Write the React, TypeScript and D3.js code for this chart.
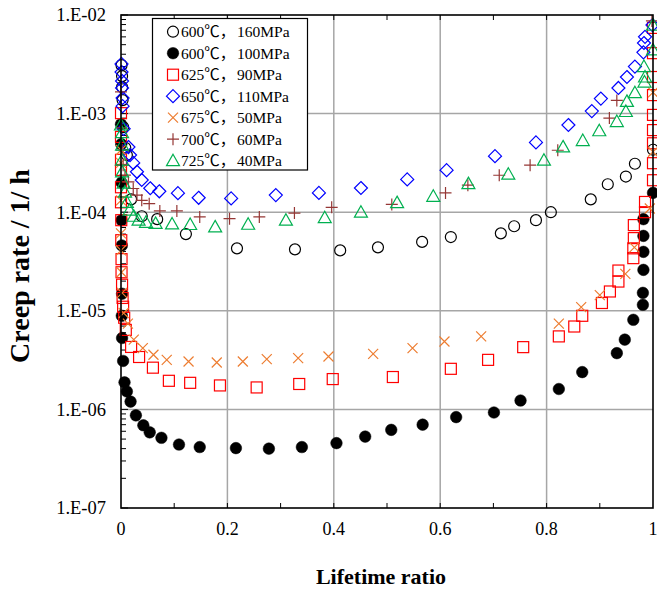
import React from "react";
import * as d3 from "d3";

type P = [number, number];

const xTicks = [0, 0.2, 0.4, 0.6, 0.8, 1];
const xTickLabels = ["0", "0.2", "0.4", "0.6", "0.8", "1"];
const yTicks = [1e-2, 1e-3, 1e-4, 1e-5, 1e-6, 1e-7];
const yTickLabels = ["1.E-02", "1.E-03", "1.E-04", "1.E-05", "1.E-06", "1.E-07"];

const temps = ["600℃，", "600℃，", "625℃，", "650℃，", "675℃，", "700℃，", "725℃，"];
const stresses = ["160MPa", "100MPa", "90MPa", "110MPa", "50MPa", "60MPa", "40MPa"];

const s600_160: P[] = [[0.001,3.1e-3],[0.002,2.4e-3],[0.002,1.86e-3],[0.003,1.37e-3],[0.004,7.3e-4],[0.008,4.5e-4],[0.011,3.8e-4],[0.019,1.35e-4],[0.039,9.1e-5],[0.068,8.5e-5],[0.122,6.0e-5],[0.218,4.3e-5],[0.327,4.2e-5],[0.412,4.1e-5],[0.483,4.4e-5],[0.566,5.0e-5],[0.62,5.6e-5],[0.714,6.1e-5],[0.739,7.2e-5],[0.78,8.3e-5],[0.808,1.0e-4],[0.883,1.35e-4],[0.915,1.92e-4],[0.949,2.3e-4],[0.966,3.1e-4],[1.0,4.3e-4]];

const s600_100: P[] = [[0.0,7.8e-4],[0.0005,4.9e-4],[0.001,2.0e-4],[0.001,8.3e-5],[0.0015,4.6e-5],[0.002,1.49e-5],[0.0015,8.9e-6],[0.002,5.3e-6],[0.004,3.1e-6],[0.0066,1.88e-6],[0.011,1.52e-6],[0.018,1.2e-6],[0.028,8.7e-7],[0.042,6.9e-7],[0.054,5.85e-7],[0.076,5.15e-7],[0.109,4.4e-7],[0.148,4.15e-7],[0.216,4.05e-7],[0.278,4.0e-7],[0.34,4.15e-7],[0.405,4.55e-7],[0.459,5.3e-7],[0.508,6.2e-7],[0.567,7.0e-7],[0.63,8.35e-7],[0.701,9.3e-7],[0.751,1.23e-6],[0.823,1.61e-6],[0.867,2.39e-6],[0.932,3.72e-6],[0.947,5.1e-6],[0.963,8.1e-6],[0.981,1.15e-5],[0.981,1.52e-5],[0.982,2.6e-5],[0.982,3.96e-5],[0.982,5.75e-5],[0.982,8.5e-5],[1.0,1.57e-4]];

const s625_90: P[] = [[0.0,1.01e-3],[0.0,5.8e-4],[0.0,3.4e-4],[0.0,2.68e-4],[0.0,1.79e-4],[0.0,1.26e-4],[0.0005,8.3e-5],[0.0005,5.2e-5],[0.001,3.34e-5],[0.001,2.46e-5],[0.002,1.84e-5],[0.003,1.35e-5],[0.004,1.1e-5],[0.006,8.5e-6],[0.009,6.4e-6],[0.019,4.3e-6],[0.034,3.4e-6],[0.06,2.65e-6],[0.09,1.95e-6],[0.13,1.86e-6],[0.186,1.75e-6],[0.255,1.67e-6],[0.335,1.81e-6],[0.398,2.03e-6],[0.511,2.13e-6],[0.62,2.58e-6],[0.69,3.18e-6],[0.756,4.28e-6],[0.823,5.5e-6],[0.852,6.93e-6],[0.867,8.9e-6],[0.904,1.2e-5],[0.919,1.57e-5],[0.935,1.98e-5],[0.935,2.56e-5],[0.963,3.42e-5],[0.963,4.3e-5],[0.964,5.46e-5],[0.964,7.4e-5],[0.985,1.0e-4],[0.985,1.27e-4],[1.0,2.11e-4],[1.0,3.14e-4],[1.0,5.0e-4],[1.0,6.8e-4],[1.0,9.7e-4],[1.0,1.54e-3],[1.0,2.35e-3],[1.0,4.1e-3],[1.0,7.4e-3]];

const s650_110: P[] = [[0.001,3.19e-3],[0.001,2.64e-3],[0.002,2.14e-3],[0.002,1.82e-3],[0.003,1.44e-3],[0.003,1.19e-3],[0.005,7.0e-4],[0.014,4.58e-4],[0.017,3.8e-4],[0.023,3.16e-4],[0.03,2.57e-4],[0.039,2.12e-4],[0.055,1.75e-4],[0.072,1.63e-4],[0.107,1.56e-4],[0.146,1.4e-4],[0.207,1.38e-4],[0.291,1.49e-4],[0.372,1.57e-4],[0.451,1.76e-4],[0.538,2.15e-4],[0.612,2.67e-4],[0.703,3.7e-4],[0.78,5.1e-4],[0.841,7.66e-4],[0.885,1.06e-3],[0.902,1.42e-3],[0.935,1.82e-3],[0.951,2.35e-3],[0.966,3.0e-3],[0.982,4.18e-3],[0.983,5.2e-3],[0.985,6.0e-3],[0.999,7.9e-3]];

const s675_50: P[] = [[0.0,4.27e-4],[0.0,3.16e-4],[0.0,1.32e-4],[0.0,6.1e-5],[0.0,4.1e-5],[0.001,2.46e-5],[0.002,1.52e-5],[0.005,9.5e-6],[0.013,7.4e-6],[0.024,5.1e-6],[0.041,4.19e-6],[0.061,3.58e-6],[0.086,3.18e-6],[0.127,3.06e-6],[0.18,2.99e-6],[0.229,3.06e-6],[0.274,3.24e-6],[0.333,3.31e-6],[0.39,3.44e-6],[0.474,3.66e-6],[0.548,4.19e-6],[0.608,4.88e-6],[0.677,5.5e-6],[0.823,7.4e-6],[0.865,1.09e-5],[0.9,1.44e-5],[0.948,2.37e-5],[0.965,4.4e-5],[0.994,1.09e-4],[1.0,4.1e-4],[1.0,1.64e-3]];

const s700_60: P[] = [[0.0,1.66e-3],[0.001,7.15e-4],[0.002,4.27e-4],[0.004,3.0e-4],[0.0075,2.38e-4],[0.014,2.03e-4],[0.023,1.74e-4],[0.03,1.49e-4],[0.039,1.32e-4],[0.053,1.22e-4],[0.073,1.03e-4],[0.105,1.03e-4],[0.148,8.96e-5],[0.204,8.6e-5],[0.26,8.96e-5],[0.326,9.8e-5],[0.396,1.12e-4],[0.509,1.2e-4],[0.61,1.57e-4],[0.652,1.88e-4],[0.711,2.37e-4],[0.769,3.0e-4],[0.821,4.25e-4],[0.918,9.0e-4],[0.932,1.36e-3],[0.998,8.7e-3]];

const s725_40: P[] = [[0.0,7.66e-4],[0.002,6.4e-4],[0.002,4.8e-4],[0.002,3.38e-4],[0.002,2.56e-4],[0.005,1.97e-4],[0.0075,1.6e-4],[0.011,1.26e-4],[0.016,1.05e-4],[0.024,9.1e-5],[0.033,8.3e-5],[0.047,7.9e-5],[0.065,7.7e-5],[0.096,7.6e-5],[0.13,7.5e-5],[0.177,7.1e-5],[0.239,7.55e-5],[0.31,8.3e-5],[0.383,8.8e-5],[0.451,1.0e-4],[0.519,1.25e-4],[0.587,1.45e-4],[0.653,1.95e-4],[0.728,2.43e-4],[0.795,3.37e-4],[0.831,4.6e-4],[0.868,5.33e-4],[0.899,6.7e-4],[0.932,8.3e-4],[0.949,1.05e-3],[0.951,1.33e-3],[0.966,1.63e-3],[0.984,2.09e-3],[0.985,2.35e-3],[0.983,3.0e-3],[1.0,4.42e-3],[1.0,7.9e-3]];

const seriesData = [s600_160, s600_100, s625_90, s650_110, s675_50, s700_60, s725_40];
const markers = ["circleOpen", "circleFilled", "square", "diamond", "cross", "plus", "triangle"];
const colors = ["#000000", "#000000", "#FF0000", "#0000FF", "#ED7D31", "#953735", "#00B050"];

const W = 657, H = 589;
const L = 121, R = 653, T = 15, B = 508;
const serif = "'Liberation Serif', 'Times New Roman', 'Noto Sans CJK JP', serif";

function Marker({ kind, x, y, color }: { kind: string; x: number; y: number; color: string }) {
  const sw = 1.2;
  switch (kind) {
    case "circleOpen":
      return <circle cx={x} cy={y} r={5.5} fill="none" stroke={color} strokeWidth={sw} />;
    case "circleFilled":
      return <circle cx={x} cy={y} r={5.8} fill={color} stroke={color} strokeWidth={0.5} />;
    case "square":
      return <rect x={x - 5.5} y={y - 5.5} width={11} height={11} fill="none" stroke={color} strokeWidth={sw} />;
    case "diamond":
      return <path d={`M${x},${y - 6.5}L${x + 6.5},${y}L${x},${y + 6.5}L${x - 6.5},${y}Z`} fill="none" stroke={color} strokeWidth={sw} />;
    case "cross":
      return <path d={`M${x - 5},${y - 5}L${x + 5},${y + 5}M${x - 5},${y + 5}L${x + 5},${y - 5}`} fill="none" stroke={color} strokeWidth={sw} />;
    case "plus":
      return <path d={`M${x - 6},${y}L${x + 6},${y}M${x},${y - 6}L${x},${y + 6}`} fill="none" stroke={color} strokeWidth={sw} />;
    case "triangle":
      return <path d={`M${x},${y - 6.5}L${x + 6.5},${y + 5}L${x - 6.5},${y + 5}Z`} fill="none" stroke={color} strokeWidth={sw} />;
  }
  return null;
}

export default function App() {
  const xs = d3.scaleLinear().domain([0, 1]).range([L, R]);
  const ys = d3.scaleLog().domain([1e-7, 1e-2]).range([B, T]);

  const minorY: number[] = [];
  for (let e = -7; e < -2; e++) {
    for (let m = 2; m <= 9; m++) minorY.push(m * Math.pow(10, e));
  }
  const tenthX = d3.range(1, 10).map((i) => i / 10);

  const legX = 152.5, legY = 18.5, legW = 155, legH = 151.5;

  return (
    <svg width={W} height={H} style={{ position: "absolute", left: 0, top: 0, background: "#fff" }} fontFamily={serif}>
      <rect x={0} y={0} width={W} height={H} fill="#fff" />
      {yTicks.slice(1, -1).map((v, i) => (
        <line key={"gy" + i} x1={L} x2={R} y1={ys(v)} y2={ys(v)} stroke="#a6a6a6" strokeWidth={1.5} />
      ))}
      {xTicks.slice(1, -1).map((v, i) => (
        <line key={"gx" + i} x1={xs(v)} x2={xs(v)} y1={T} y2={B} stroke="#a6a6a6" strokeWidth={1.5} />
      ))}
      {minorY.map((v, i) => (
        <line key={"my" + i} x1={L} x2={L + 5} y1={ys(v)} y2={ys(v)} stroke="#000" strokeWidth={1} />
      ))}
      {yTicks.map((v, i) => (
        <line key={"My" + i} x1={L} x2={L + 7} y1={ys(v)} y2={ys(v)} stroke="#000" strokeWidth={1} />
      ))}
      {tenthX.map((v, i) => (
        <g key={"tx" + i}>
          <line x1={xs(v)} x2={xs(v)} y1={T} y2={T + 5} stroke="#000" strokeWidth={1} />
          <line x1={xs(v)} x2={xs(v)} y1={B} y2={B - 5} stroke="#000" strokeWidth={1} />
        </g>
      ))}
      {seriesData.map((s, si) => (
        <g key={"s" + si}>
          {s.map((p, pi) => (
            <Marker key={pi} kind={markers[si]} x={xs(p[0])} y={ys(p[1])} color={colors[si]} />
          ))}
        </g>
      ))}
      <rect x={L} y={T} width={R - L} height={B - T} fill="none" stroke="#000" strokeWidth={1.6} />
      {yTicks.map((v, i) => (
        <text key={"yl" + i} x={106} y={ys(v)} dy="0.35em" textAnchor="end" fontSize={18.5} fill="#000">
          {yTickLabels[i]}
        </text>
      ))}
      {xTicks.map((v, i) => (
        <text key={"xl" + i} x={xs(v)} y={535} textAnchor="middle" fontSize={18} fill="#000">
          {xTickLabels[i]}
        </text>
      ))}
      <text x={381} y={584} textAnchor="middle" fontSize={22} fontWeight="bold" fill="#000">
        Lifetime ratio
      </text>
      <text transform={`translate(29,266) rotate(-90)`} textAnchor="middle" fontSize={28} fontWeight="bold" fill="#000">
        Creep rate / 1/ h
      </text>
      <rect x={legX} y={legY} width={legW} height={legH} fill="#fff" stroke="#000" strokeWidth={1.2} />
      {temps.map((t, i) => {
        const cy = 31.7 + i * 21.5;
        return (
          <g key={"lg" + i}>
            <Marker kind={markers[i]} x={173} y={cy} color={colors[i]} />
            <text x={181} y={cy} dy="0.36em" fontSize={15.5} fill="#000">
              {t}
            </text>
            <text x={237} y={cy} dy="0.36em" fontSize={15.5} fill="#000">
              {stresses[i]}
            </text>
          </g>
        );
      })}
    </svg>
  );
}
